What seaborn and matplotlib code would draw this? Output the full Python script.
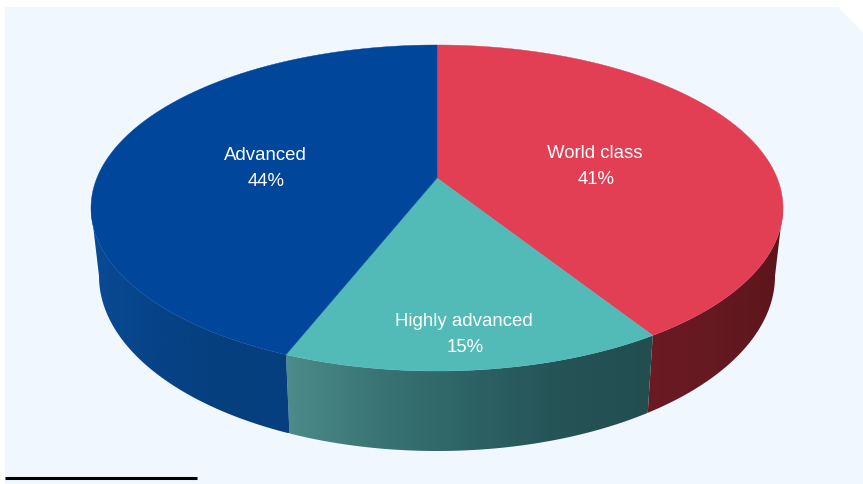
import numpy as np
import matplotlib
matplotlib.use("Agg")
import matplotlib.pyplot as plt
from matplotlib.colors import to_rgb
from matplotlib.patches import Polygon
import seaborn as sns

categories = ["World class", "Highly advanced", "Advanced"]
shares = [41, 15, 44]

top_colors = ["#E23F54", "#52BBB8", "#00469B"]
# Wall shading per slice, from the left end of the visible wall to the right.
wall_colors = [
    ["#6C1A24", "#651920", "#5C151C"],
    ["#4C8C8A", "#3A7474", "#2D6365", "#255356", "#224E50"],
    ["#0A4A96", "#064386", "#063F7E", "#053F80"],
]
label_xy = [(595, 167), (464, 334), (265, 168)]

sns.set_theme(style="white")
plt.rcParams["font.family"] = ["Liberation Sans", "DejaVu Sans"]

fig = plt.figure(figsize=(8.63, 4.84), dpi=100, facecolor="white")
ax = fig.add_axes([0, 0, 1, 1])
ax.axis("off")

# Panel with its clipped top-right corner, and the short footnote rule.
ax.add_patch(Polygon([(5, 7), (838, 7), (863, 33), (863, 484), (5, 484)],
                     closed=True, fc="#F0F7FE", ec="none", zorder=0))
ax.plot([5, 197], [478, 478], color="black", lw=2.2, solid_capstyle="butt", zorder=1)

# Disc layout: top rim, base rim, and perspective shift of the hub.
CX, CY, RX, RY = 437, 208, 346, 163
BASE_CY, BASE_RX, BASE_RY = 276, 338, 175
SHIFT = 0.184


def rim_param(theta):
    """Ellipse parameter of a pie angle (clockwise from 12 o'clock) under perspective."""
    x, y = np.sin(theta), np.cos(theta)
    den = 1 + y * SHIFT
    return np.arctan2(x * np.sqrt(1 - SHIFT**2) / den, (y + SHIFT) / den) % (2 * np.pi)


def top_xy(t):
    return CX + RX * np.sin(t), CY - RY * np.cos(t)


def base_xy(t):
    return CX + BASE_RX * np.sin(t), BASE_CY - BASE_RY * np.cos(t)


fractions = np.array(shares) / sum(shares)
edges = np.concatenate([[0], np.cumsum(fractions)]) * 2 * np.pi
hub = (CX, CY - RY * SHIFT)

# Walls: a horizontal colour ramp clipped to the front band of each slice.
for i in range(len(shares)):
    t0 = rim_param(edges[i])
    t1 = rim_param(edges[i + 1]) if i < len(shares) - 1 else 2 * np.pi
    lo, hi = max(t0, np.pi / 2), min(t1, 3 * np.pi / 2)
    if hi <= lo:
        continue
    ts = np.linspace(lo, hi, 200)
    xt, yt = top_xy(ts)
    xb, yb = base_xy(ts)
    outline = np.r_[np.c_[xt, yt], np.c_[xb, yb][::-1]]
    x0, x1 = outline[:, 0].min(), outline[:, 0].max()
    y0, y1 = outline[:, 1].min(), outline[:, 1].max()
    ramp = np.array([to_rgb(c) for c in wall_colors[i]])
    grid = np.linspace(0, 1, 256)
    stops = np.linspace(0, 1, len(ramp))
    row = np.column_stack([np.interp(grid, stops, ramp[:, k]) for k in range(3)])
    im = ax.imshow(row[np.newaxis, :, :], extent=(x0, x1, y1, y0), aspect="auto",
                   interpolation="bilinear", zorder=2)
    clip = Polygon(outline, closed=True, transform=ax.transData, fc="none", ec="none")
    ax.add_patch(clip)
    im.set_clip_path(clip)

# Top face of each slice, fanned from the shifted hub.
for i in range(len(shares)):
    thetas = np.linspace(edges[i], edges[i + 1], 200)
    ts = rim_param(thetas)
    xs, ys = top_xy(ts)
    ax.fill(np.r_[hub[0], xs], np.r_[hub[1], ys], color=top_colors[i], lw=0.3, zorder=3)

# Category name with its share underneath.
for name, share, (lx, ly) in zip(categories, shares, label_xy):
    ax.text(lx, ly - 13, name, color="white", fontsize=13.4, ha="center", va="center", zorder=4)
    ax.text(lx + 1, ly + 13, f"{share}%", color="white", fontsize=13.4, ha="center", va="center", zorder=4)

ax.set_xlim(0, 863)
ax.set_ylim(484, 0)

fig.savefig("out.png", dpi=100, facecolor="white")
